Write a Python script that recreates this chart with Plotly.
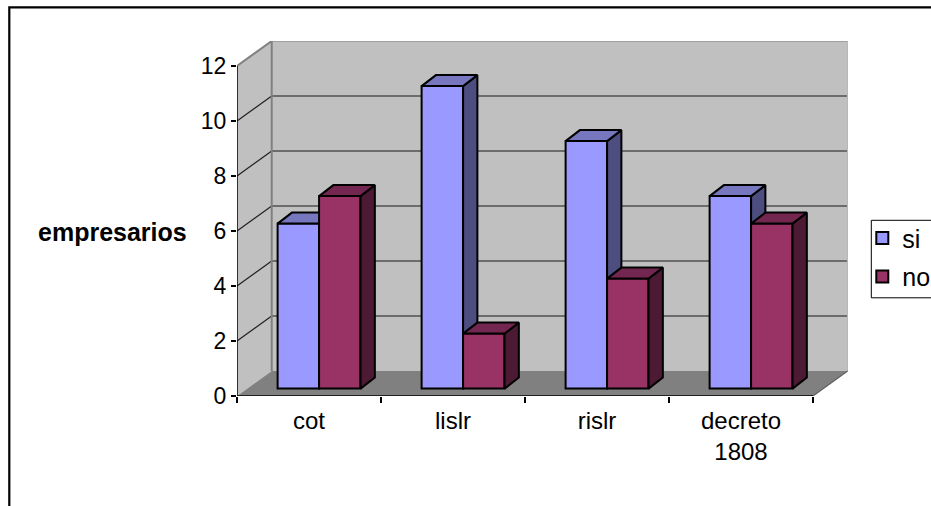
import plotly.graph_objects as go

categories = ["cot", "lislr", "rislr", "decreto<br>1808"]
si_values = [6, 11, 9, 7]
no_values = [7, 2, 4, 6]
y_ticks = [0, 2, 4, 6, 8, 10, 12]
series_names = ["si", "no"]

FONT = "Liberation Sans, Arial, sans-serif"
SI = dict(front="#9999FF", side="#4D4D80", top="#7777BF")
NO = dict(front="#993366", side="#4D1A33", top="#732650")

# plot box in pixels, used only to lay out the frame of the chart
W, H = 931, 506
L, R, T, B = 236.7, 847.7, 40.7, 395.7
PX_X, PX_Y = 144.0, 27.5            # pixels per category / per unit
WALL_DX, WALL_DY = 34.7 / PX_X, 25.0 / PX_Y
BAR_DX, BAR_DY = 14.3 / PX_X, 11.0 / PX_Y
BAR_X0, BAR_W = 0.282, 0.288
BAR_BASE = 7.4 / PX_Y
x_max, y_max = 4 + WALL_DX, 12 + WALL_DY

xr = [0, (R - L) / PX_X]
yr = [0, (B - T) / PX_Y]


def poly(points, fill, line="#000000", width=0, layer="below", xref="x", yref="y"):
    path = "M" + " L".join(f"{a},{b}" for a, b in points) + " Z"
    return dict(type="path", path=path, fillcolor=fill, layer=layer, xref=xref, yref=yref,
                line=dict(color=line, width=width))


def seg(x0, y0, x1, y1, color, width, layer="below"):
    return dict(type="line", x0=x0, y0=y0, x1=x1, y1=y1, xref="x", yref="y", layer=layer,
                line=dict(color=color, width=width))


shapes = [
    poly([(WALL_DX, WALL_DY), (x_max, WALL_DY), (x_max, y_max), (WALL_DX, y_max)], "#C0C0C0"),
    poly([(0, 0), (WALL_DX, WALL_DY), (WALL_DX, y_max), (0, 12)], "#C0C0C0"),
    poly([(0, 0), (4, 0), (x_max, WALL_DY), (WALL_DX, WALL_DY)], "#808080"),
]
for t in y_ticks[1:-1]:
    shapes.append(seg(0, t, WALL_DX, t + WALL_DY, "#202020", 1.2))
    shapes.append(seg(WALL_DX, t + WALL_DY, x_max, t + WALL_DY, "#505050", 1.5))
shapes += [
    seg(WALL_DX, y_max, x_max, y_max, "#A0A0A0", 2),
    seg(0, 12, WALL_DX, y_max, "#808080", 2),
    seg(WALL_DX, WALL_DY, WALL_DX, y_max, "#808080", 2),
    seg(x_max, WALL_DY, x_max, y_max, "#B8B8B8", 1.5),
    seg(4, 0, x_max, WALL_DY, "#606060", 1.2),
    seg(0, 0, 0, 12, "#000000", 1.5, "above"),
    seg(0, 0, 4, 0, "#000000", 1.5, "above"),
]
# outer chart frame (open on the right and bottom, as in the picture)
shapes.append(dict(type="path", xref="paper", yref="paper", layer="above",
                   path=f"M{(9 - L) / (R - L)},{(B - H - 5) / (B - T)} L{(9 - L) / (R - L)},{(B - 7) / (B - T)} L{(W + 5 - L) / (R - L)},{(B - 7) / (B - T)}",
                   line=dict(color="#000000", width=2.2)))
# legend box
shapes.append(dict(type="rect", xref="paper", yref="paper", layer="above",
                   x0=(871 - L) / (R - L), x1=(W + 5 - L) / (R - L),
                   y0=(B - 297.5) / (B - T), y1=(B - 220) / (B - T),
                   line=dict(color="#000000", width=1)))

fig = go.Figure()
positions = list(range(len(categories)))


def faces(values, slot, colors, xa, ya, name):
    lefts = [p + BAR_X0 + slot * BAR_W for p in positions]
    for x, v in zip(lefts, values):
        top = BAR_BASE + v
        fig.add_trace(go.Scatter(
            x=[x + BAR_W, x + BAR_W + BAR_DX, x + BAR_W + BAR_DX, x + BAR_W, x + BAR_W],
            y=[BAR_BASE, BAR_BASE + BAR_DY, top + BAR_DY, top, BAR_BASE],
            mode="lines", fill="toself", fillcolor=colors["side"],
            line=dict(color="#000000", width=2), showlegend=False, hoverinfo="skip",
            legendgroup=name, xaxis=xa, yaxis=ya))
        fig.add_trace(go.Scatter(
            x=[x, x + BAR_DX, x + BAR_W + BAR_DX, x + BAR_W, x],
            y=[top, top + BAR_DY, top + BAR_DY, top, top],
            mode="lines", fill="toself", fillcolor=colors["top"],
            line=dict(color="#000000", width=2), showlegend=False, hoverinfo="skip",
            legendgroup=name, xaxis=xa, yaxis=ya))
    fig.add_trace(go.Bar(
        x=lefts, y=values, base=BAR_BASE, width=BAR_W, offset=0, name=name, legendgroup=name,
        marker=dict(color=colors["front"], line=dict(color="#000000", width=2)),
        xaxis=xa, yaxis=ya))


faces(si_values, 0, SI, "x", "y", series_names[0])
faces(no_values, 1, NO, "x2", "y2", series_names[1])

fig.add_annotation(text="<b>empresarios</b>", xref="paper", yref="paper",
                   x=(189 - L) / (R - L), y=(B - 232) / (B - T), xanchor="right", yanchor="middle",
                   showarrow=False, font=dict(family=FONT, size=25, color="#000000"))

fig.update_layout(
    width=W, height=H, autosize=False,
    margin=dict(l=L, r=W - R, t=T, b=H - B, pad=0, autoexpand=False),
    paper_bgcolor="#FFFFFF", plot_bgcolor="rgba(0,0,0,0)",
    barmode="overlay", shapes=shapes,
    font=dict(family=FONT, size=23, color="#000000"),
    xaxis=dict(range=xr, showgrid=False, zeroline=False, showline=False,
               tickmode="array", tickvals=[p + 0.5 for p in positions], ticktext=categories,
               tickfont=dict(family=FONT, size=24),
               ticks="outside", ticklen=3, tickcolor="rgba(0,0,0,0)",
               minor=dict(tickmode="array", tickvals=positions + [len(positions)], ticks="outside",
                          ticklen=6, tickcolor="#000000", tickwidth=1.5, showgrid=False)),
    yaxis=dict(range=yr, showgrid=False, zeroline=False, showline=False,
               tickmode="array", tickvals=y_ticks, ticks="outside", ticklen=5,
               tickfont=dict(family=FONT, size=23),
               tickcolor="#000000", tickwidth=1.5),
    xaxis2=dict(range=xr, overlaying="x", visible=False),
    yaxis2=dict(range=yr, overlaying="y", visible=False),
    legend=dict(x=(862 - L) / (R - L), y=(B - 215) / (B - T), xanchor="left", yanchor="top",
                bgcolor="rgba(0,0,0,0)", borderwidth=0, tracegroupgap=3,
                font=dict(family=FONT, size=25), traceorder="grouped"),
    showlegend=True,
)

fig.write_html("out.html", config=dict(displayModeBar=False),
               post_script="document.body.style.margin='0';document.body.style.overflow='hidden';")
